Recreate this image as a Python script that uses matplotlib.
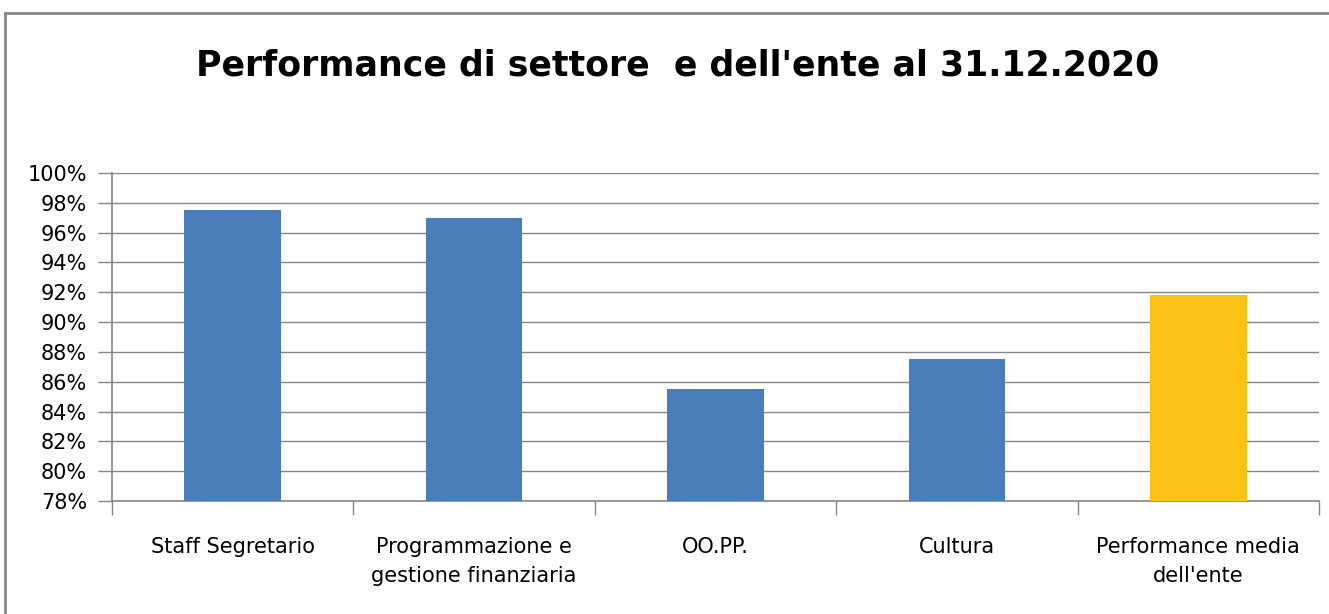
import matplotlib.pyplot as plt
from matplotlib.patches import Rectangle
from matplotlib.ticker import FuncFormatter, FixedLocator
from matplotlib import font_manager

categories = ["Staff Segretario", "Programmazione e\ngestione finanziaria", "OO.PP.",
              "Cultura", "Performance media\ndell'ente"]
values = [97.5, 97.0, 85.5, 87.5, 91.8]
bar_colors = ["#4A7EBB", "#4A7EBB", "#4A7EBB", "#4A7EBB", "#FCC116"]
title = "Performance di settore  e dell'ente al 31.12.2020"

names = {f.name for f in font_manager.fontManager.ttflist}
font = "Liberation Sans Narrow" if "Liberation Sans Narrow" in names else "DejaVu Sans"
plt.rcParams["font.family"] = [font, "DejaVu Sans"]

grey = "#868686"

fig = plt.figure(figsize=(13.29, 6.14), dpi=100)
fig.patches.append(Rectangle((5 / 1329, -0.1), 1.2, 1.1 - 13 / 614, transform=fig.transFigure,
                             fill=False, edgecolor=grey, linewidth=2))

ax = fig.add_axes([112 / 1329, 1 - 501 / 614, 1207 / 1329, 328 / 614])
x = list(range(len(categories)))
ax.bar(x, values, width=0.4, color=bar_colors, zorder=3)

ax.set_xlim(-0.5, len(categories) - 0.5)
ax.set_ylim(78, 100)
ax.set_yticks(range(78, 101, 2))
ax.yaxis.set_major_formatter(FuncFormatter(lambda v, p: f"{v:.0f}%"))
ax.yaxis.grid(True, color=grey, linewidth=1.0, zorder=0)

ax.set_xticks(x)
ax.set_xticklabels(categories, fontsize=15, linespacing=1.55)
ax.xaxis.set_minor_locator(FixedLocator([i - 0.5 for i in range(len(categories) + 1)]))
ax.tick_params(axis="x", which="major", length=0, pad=26)
ax.tick_params(axis="x", which="minor", length=10, width=1.0, color=grey)
ax.tick_params(axis="y", length=10, width=1.0, color=grey, pad=8, labelsize=15)

for s in ["top", "right"]:
    ax.spines[s].set_visible(False)
for s in ["left", "bottom"]:
    ax.spines[s].set_color(grey)
    ax.spines[s].set_linewidth(1.2)

fig.text(678 / 1329, 1 - 65 / 614, title, ha="center", va="center", fontsize=25, fontweight="bold")

fig.savefig("out.png", dpi=100)
